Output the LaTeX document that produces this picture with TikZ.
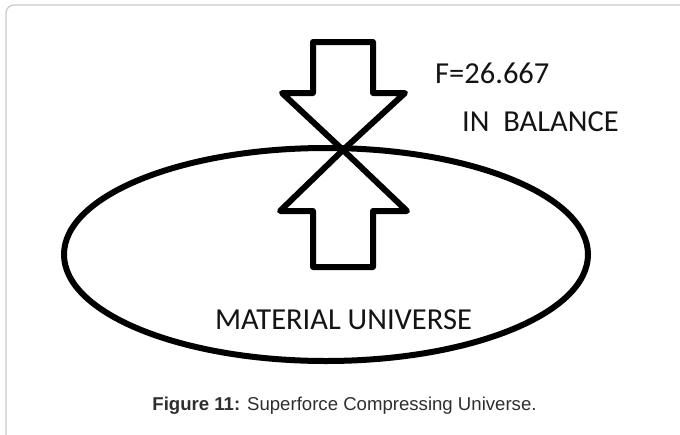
\documentclass[tikz,border=0pt]{standalone}
\usepackage{fontspec}
\newfontfamily\calfont{Carlito}
\newfontfamily\capfont{Liberation Sans}
\usetikzlibrary{positioning}

\begin{document}
\begin{tikzpicture}[
    x=1pt, y=-1pt,
    framestyle/.style={draw=black!22, line width=1.2pt, rounded corners=8pt},
    arrowstyle/.style={draw=black, line width=6pt, line join=round},
    bodystyle/.style={draw=black, line width=6pt},
    textstyle/.style={font=\calfont\fontsize{30.5}{36}\selectfont, text=black!92, inner sep=0pt},
    capstyle/.style={font=\capfont\fontsize{18.6}{22}\selectfont, text=black!82, inner sep=0pt}
  ]
    \useasboundingbox (0,0) rectangle (680,434);
    % page frame
    \begin{scope}
      \clip (0,0) rectangle (680,434);
      \draw[framestyle] (6,5) rectangle (688,470);
    \end{scope}
    % material universe
    \draw[bodystyle] (326,254.5) ellipse [x radius=262pt, y radius=106.5pt];
    % point where the two forces meet
    \coordinate (meet) at (343,150);
    % force from above
    \draw[arrowstyle] (meet) -- ++(-61,-57) -- ++(31,0) -- ++(0,-51) -- ++(60,0)
        -- ++(0,51) -- ++(32,0) -- cycle;
    % force from below
    \draw[arrowstyle] (meet) -- ++(-63,61) -- ++(33,0) -- ++(0,56) -- ++(60,0)
        -- ++(0,-56) -- ++(34,0) -- cycle;
    \node[textstyle, anchor=base west] (force) at (435,83) {F=26.667};
    \node[textstyle, anchor=base west] (balance) at (462,131) {IN\ \ BALANCE};
    \node[textstyle, anchor=base] (universe) at (343.5,329) {MATERIAL UNIVERSE};
    \node[capstyle, anchor=base] (caption) at (344.5,410)
        {\textbf{Figure 11:} Superforce Compressing Universe.};
  \end{tikzpicture}
\end{document}
